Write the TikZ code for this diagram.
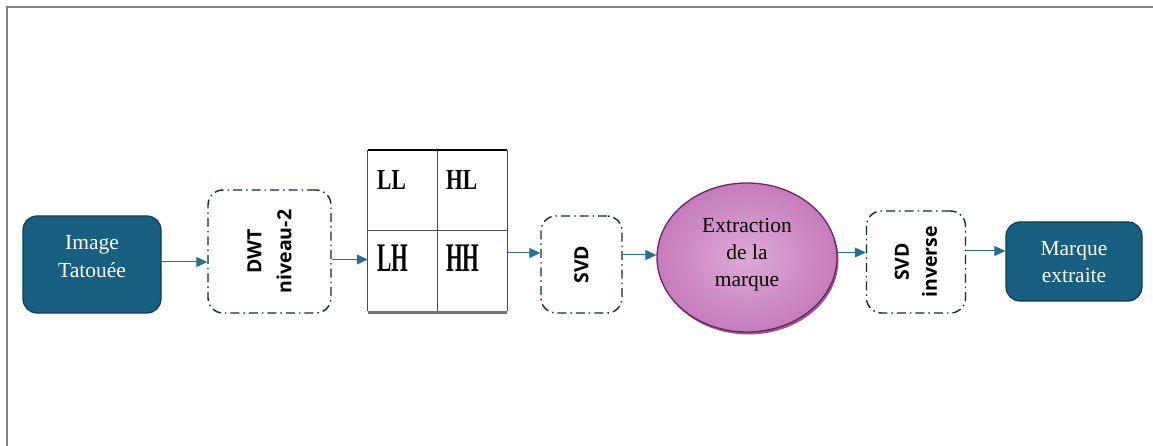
\documentclass[tikz,border=0pt]{standalone}
\usepackage{fontspec}
\setmainfont{Liberation Serif}
\setsansfont{Open Sans}
\usetikzlibrary{arrows.meta,shapes.geometric,calc,shadows}
\definecolor{teal1}{HTML}{175E80}
\definecolor{tealbd}{HTML}{0F3D52}
\definecolor{arrcol}{HTML}{2B6E8F}
\definecolor{navy}{HTML}{10293A}
\definecolor{pinkin}{HTML}{DEAAD7}
\definecolor{pinkout}{HTML}{C67CBC}
\definecolor{purbd}{HTML}{6E2466}
\definecolor{framecol}{HTML}{7F7F7F}
\tikzset{
  darkbox/.style={rectangle, rounded corners=14pt, fill=teal1, draw=tealbd, line width=1.2pt,
    text=white, align=center, inner sep=0pt},
  dashbox/.style={rectangle, rounded corners=15pt, draw=navy, line width=1.4pt,
    dash pattern=on 9pt off 4pt on 1.5pt off 4pt, inner sep=0pt},
  boxtext/.style={rotate=90, align=center, inner sep=0pt,
    font=\fontsize{19.5}{30}\selectfont\sffamily\bfseries},
  arr/.style={draw=arrcol, line width=1pt, -{Triangle[length=11pt,width=10pt]}},
  glab/.style={anchor=base west, inner sep=0pt, font=\fontsize{29}{29}\selectfont\bfseries},
}
\begin{document}
\begin{tikzpicture}[x=1pt,y=-1pt]
\useasboundingbox (0,0) rectangle (1153,446);
\draw[framecol, line width=1.3pt] (1153,7) -- (7,7) -- (7,446);

% Image Tatouee
\node[darkbox, minimum width=138pt, minimum height=97pt] (img) at (92,264.5) {};
\node[text=white, align=center, font=\fontsize{21.5}{28}\selectfont, inner sep=0pt] (imgt) at (92,257) {Image\\Tatouée};

% DWT box
\node[dashbox, minimum width=123pt, minimum height=123pt] (dwt) at (269.5,251.5) {};
\node[boxtext] (dwtt) at (269.5,251.5) {DWT\\niveau-2};

% grid
\node[minimum width=139pt, minimum height=161pt, inner sep=0pt] (grid) at (437.5,230.5) {};
\draw[black!70, line width=1.1pt] (grid.north west) -- (grid.south west);
\draw[black!70, line width=1.1pt] (grid.north east) -- (grid.south east);
\draw[black!70, line width=1.1pt] (grid.north) -- (grid.south);
\draw[black!70, line width=1.1pt] (grid.west) -- (grid.east);
\draw[black, line width=2pt] (grid.north west) -- (grid.north east);
\draw[black!55, line width=3pt] ([yshift=-1.5pt]grid.south west) -- ([yshift=-1.5pt]grid.south east);
\node[glab] (ll) at (377,190) {\scalebox{0.74}[1.0]{LL}};
\node[glab] (hl) at (446,190) {\scalebox{0.74}[1.0]{HL}};
\node[glab] (lh) at (377,271) {\scalebox{0.74}[1.4]{LH}};
\node[glab] (hh) at (446,271) {\scalebox{0.74}[1.4]{HH}};

% SVD
\node[dashbox, minimum width=81pt, minimum height=97pt] (svd) at (581.5,264.5) {};
\node[boxtext] (svdt) at (581.5,264.5) {SVD};

% ellipse
\node[ellipse, minimum width=180pt, minimum height=149pt, fill=purbd, opacity=0.75] (shad) at (748.5,260) {};
\node[ellipse, minimum width=180pt, minimum height=149pt, draw=purbd, line width=1.3pt,
  inner color=pinkin, outer color=pinkout] (ext) at (747,257.5) {};
\node[align=center, font=\fontsize{21.5}{27}\selectfont, inner sep=0pt] (extt) at (747,255) {Extraction\\de la\\marque};

% SVD inverse
\node[dashbox, minimum width=99pt, minimum height=102pt] (svdi) at (916,262) {};
\node[boxtext, font=\fontsize{19.5}{28}\selectfont\sffamily\bfseries] (svdit) at (916,262) {SVD\\inverse};

% Marque extraite
\node[darkbox, minimum width=136pt, minimum height=79pt] (mq) at (1074,261.5) {};
\node[text=white, align=center, font=\fontsize{21.5}{27}\selectfont, inner sep=0pt] (mqt) at (1074,262) {Marque\\extraite};

% arrows
\draw[arr] ($(img.east)+(0,-2.5)$) coordinate (a1) -- (a1 -| dwt.west);
\draw[arr] ($(dwt.east)+(0,8)$) coordinate (a2) -- (a2 -| grid.west);
\draw[arr] ($(grid.east)+(0,22.5)$) coordinate (a3) -- (a3 -| svd.west);
\draw[arr] ($(svd.east)+(0,-9.5)$) coordinate (a4) -- (a4 -| ext.west);
\draw[arr] ($(ext.east)+(0,-5)$) coordinate (a5) -- (a5 -| svdi.west);
\draw[arr] ($(svdi.east)+(0,-11)$) coordinate (a6) -- (a6 -| mq.west);
\end{tikzpicture}
\end{document}
